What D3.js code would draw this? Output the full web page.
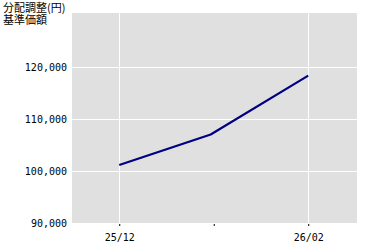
<!DOCTYPE html>
<html>
<head>
<meta charset="utf-8">
<script src="https://cdn.jsdelivr.net/npm/d3@7"></script>
<style>
  body { margin: 0; background: #fff; }
  text { font-family: "DejaVu Sans Mono", monospace; font-size: 10px; fill: #000; }
</style>
</head>
<body>
<div id="chart"></div>
<script>
// data
const dates = ["2025-12-01", "2025-12-31", "2026-02-01"];
const values = [101150, 107020, 118350];
const yTicks = [90000, 100000, 110000, 120000];
const xTicks = ["2025-12-01", "2026-01-01", "2026-02-01"];
const xTickLabels = ["25/12", "", "26/02"];
const titleLines = ["分配調整(円)", "基準価額"];

const parse = d3.timeParse("%Y-%m-%d");
const data = dates.map((d, i) => ({ date: parse(d), value: values[i] }));

const width = 380, height = 250;
const plot = { left: 72, right: 357, top: 13, bottom: 224 };

const svg = d3.select("#chart").append("svg")
  .attr("width", width)
  .attr("height", height);

const x = d3.scaleTime()
  .domain([new Date(2025, 10, 15, 12), new Date(2026, 1, 17)])
  .range([plot.left, plot.right]);

const y = d3.scaleLinear()
  .domain([90000, 120000])
  .range([223, 67]);

// plot background
svg.append("rect")
  .attr("x", plot.left)
  .attr("y", plot.top)
  .attr("width", plot.right - plot.left)
  .attr("height", plot.bottom - plot.top)
  .attr("fill", "#e0e0e0");

// horizontal grid + y labels
const yAxis = d3.axisLeft(y)
  .tickValues(yTicks)
  .tickSize(-(plot.right - plot.left) - 2)
  .tickPadding(3)
  .tickFormat(d3.format(","));

const gy = svg.append("g")
  .attr("transform", `translate(${plot.left - 2},0)`)
  .call(yAxis);
gy.select(".domain").remove();
gy.selectAll(".tick line").attr("stroke", "#fff").attr("shape-rendering", "crispEdges");
gy.selectAll(".tick text").attr("fill", "#000").attr("dy", "0.35em");

// vertical grid
svg.append("g")
  .selectAll("line")
  .data(xTicks.filter((d, i) => xTickLabels[i] !== ""))
  .join("line")
  .attr("x1", d => Math.round(x(parse(d))) + 0.5)
  .attr("x2", d => Math.round(x(parse(d))) + 0.5)
  .attr("y1", plot.top)
  .attr("y2", plot.bottom)
  .attr("stroke", "#fff");

// x axis
const xAxis = d3.axisBottom(x)
  .tickValues(xTicks.map(parse))
  .tickSize(2)
  .tickPadding(8)
  .tickFormat((d, i) => xTickLabels[i]);

const gx = svg.append("g")
  .attr("transform", `translate(0,${plot.bottom})`)
  .call(xAxis);
gx.select(".domain").remove();
gx.selectAll(".tick line").attr("stroke", "#000");
gx.selectAll(".tick text").attr("fill", "#000");

// line
const line = d3.line()
  .x(d => x(d.date))
  .y(d => y(d.value));

svg.append("path")
  .datum(data)
  .attr("fill", "none")
  .attr("stroke", "#000080")
  .attr("stroke-width", 2.2)
  .attr("stroke-linejoin", "round")
  .attr("d", line);

// title
svg.append("text")
  .style("font-family", "'Noto Sans CJK JP', sans-serif")
  .style("font-size", "11px")
  .selectAll("tspan")
  .data(titleLines)
  .join("tspan")
  .attr("x", 3)
  .attr("y", (d, i) => 12 + i * 12)
  .text(d => d);
</script>
</body>
</html>
